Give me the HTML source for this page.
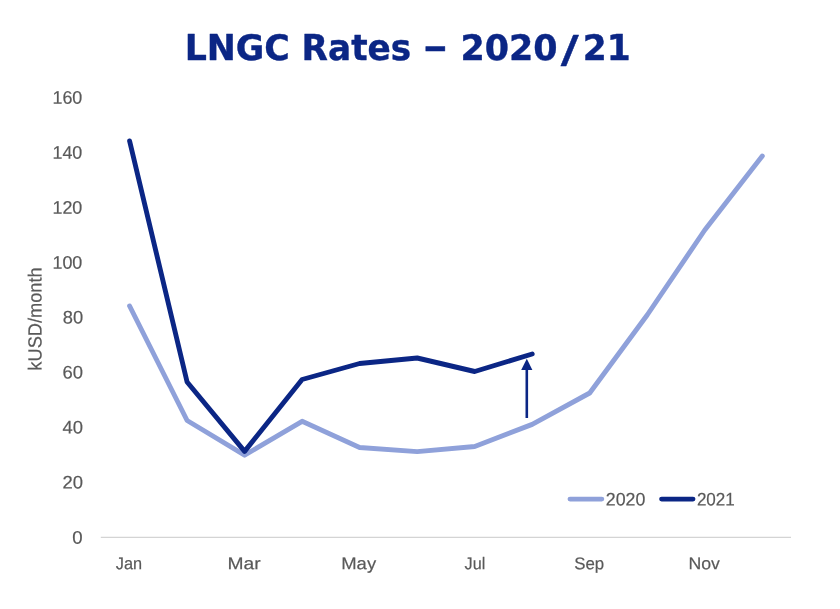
<!DOCTYPE html>
<html lang="en">
<head>
<meta charset="utf-8">
<title>LNGC Rates – 2020/21</title>
<style>
html,body{margin:0;padding:0;background:#fff;}
body{width:840px;height:609px;overflow:hidden;}
svg{display:block;}
.t{font-family:"DejaVu Sans","Liberation Sans",sans-serif;font-weight:bold;fill:#0b2685;stroke:#0b2685;stroke-width:0.4;stroke-linejoin:round;}
.a{font-family:"Liberation Sans","DejaVu Sans",sans-serif;fill:#595959;stroke:#595959;stroke-width:0.2;stroke-linejoin:round;}
</style>
</head>
<body>
<svg width="840" height="609" viewBox="0 0 840 609">
<rect width="840" height="609" fill="#ffffff"/>
<text class="t" xml:space="preserve"><tspan x="184.64" y="59.50" font-size="35.7" textLength="105.22" lengthAdjust="spacingAndGlyphs">LNGC</tspan> <tspan x="301.58" y="59.50" font-size="35.7" textLength="109.66" lengthAdjust="spacingAndGlyphs">Rates</tspan> <tspan x="423.16" y="59.10" font-size="35.7" textLength="24.22" lengthAdjust="spacingAndGlyphs">–</tspan> <tspan x="460.39" y="59.50" font-size="35.7" textLength="97.18" lengthAdjust="spacingAndGlyphs">2020</tspan><tspan x="560.70" y="61.70" font-size="37.9" textLength="17.96" lengthAdjust="spacingAndGlyphs">/</tspan><tspan x="582.73" y="59.50" font-size="35.7" textLength="47.91" lengthAdjust="spacingAndGlyphs">21</tspan></text>
<line x1="100.8" y1="537.35" x2="791" y2="537.35" stroke="#d4d4d4" stroke-width="1.3"/>
<g>
<text class="a" transform="translate(72.14,543.70) rotate(0.05)" font-size="18.3" textLength="10.35" lengthAdjust="spacingAndGlyphs">0</text>
<text class="a" transform="translate(62.62,488.50) rotate(0.05)" font-size="18.3" textLength="20.51" lengthAdjust="spacingAndGlyphs">20</text>
<text class="a" transform="translate(62.62,433.40) rotate(0.05)" font-size="18.3" textLength="20.50" lengthAdjust="spacingAndGlyphs">40</text>
<text class="a" transform="translate(62.62,378.50) rotate(0.05)" font-size="18.3" textLength="20.51" lengthAdjust="spacingAndGlyphs">60</text>
<text class="a" transform="translate(62.75,323.50) rotate(0.05)" font-size="18.3" textLength="20.37" lengthAdjust="spacingAndGlyphs">80</text>
<text class="a" transform="translate(52.45,268.70) rotate(0.05)" font-size="18.3" textLength="29.90" lengthAdjust="spacingAndGlyphs">100</text>
<text class="a" transform="translate(52.45,213.70) rotate(0.05)" font-size="18.3" textLength="29.90" lengthAdjust="spacingAndGlyphs">120</text>
<text class="a" transform="translate(52.45,158.70) rotate(0.05)" font-size="18.3" textLength="29.90" lengthAdjust="spacingAndGlyphs">140</text>
<text class="a" transform="translate(52.45,103.70) rotate(0.05)" font-size="18.3" textLength="29.90" lengthAdjust="spacingAndGlyphs">160</text>
</g>
<g>
<text class="a" transform="translate(115.76,569.30) rotate(0.05)" font-size="17.0" textLength="26.35" lengthAdjust="spacingAndGlyphs">Jan</text>
<text class="a" transform="translate(227.54,569.30) rotate(0.05)" font-size="17.0" textLength="33.18" lengthAdjust="spacingAndGlyphs">Mar</text>
<text class="a" transform="translate(341.20,569.30) rotate(0.05)" font-size="17.0" textLength="34.93" lengthAdjust="spacingAndGlyphs">May</text>
<text class="a" transform="translate(464.56,569.30) rotate(0.05)" font-size="17.0" textLength="20.69" lengthAdjust="spacingAndGlyphs">Jul</text>
<text class="a" transform="translate(574.23,569.30) rotate(0.05)" font-size="17.0" textLength="29.91" lengthAdjust="spacingAndGlyphs">Sep</text>
<text class="a" transform="translate(688.47,569.30) rotate(0.05)" font-size="17.0" textLength="31.44" lengthAdjust="spacingAndGlyphs">Nov</text>
</g>
<text class="a" transform="translate(41.5,319.0) rotate(-89.95)" text-anchor="middle" font-size="19.0" textLength="103.3" lengthAdjust="spacingAndGlyphs">kUSD/month</text>
<polyline fill="none" stroke="#8fa1da" stroke-width="4.9" stroke-linecap="round" stroke-linejoin="round"
 points="129.6,306 187.1,420.5 244.6,455.2 302.1,421.3 359.6,447.5 417.2,451.6 474.7,446.5 532.2,424.4 589.7,393 647.2,315 704.8,230 762.3,156"/>
<polyline fill="none" stroke="#0b2685" stroke-width="4.9" stroke-linecap="round" stroke-linejoin="round"
 points="129.6,141 187.1,382 244.6,451.4 302.1,379.5 359.6,363.5 417.2,358 474.7,371.5 532.2,354"/>
<line x1="526.8" y1="418" x2="526.8" y2="368" stroke="#0b2685" stroke-width="2.6"/>
<polygon points="526.8,358.7 521.2,370 532.4,370" fill="#0b2685"/>
<line x1="570" y1="499.1" x2="601.8" y2="499.1" stroke="#8fa1da" stroke-width="4.9" stroke-linecap="round"/>
<line x1="661.6" y1="499.1" x2="693" y2="499.1" stroke="#0b2685" stroke-width="4.9" stroke-linecap="round"/>
<text class="a" transform="translate(605.85,505.40) rotate(0.05)" font-size="18.3" textLength="39.50" lengthAdjust="spacingAndGlyphs">2020</text>
<text class="a" transform="translate(696.88,505.40) rotate(0.05)" font-size="18.3" textLength="37.98" lengthAdjust="spacingAndGlyphs">2021</text>
</svg>
</body>
</html>
